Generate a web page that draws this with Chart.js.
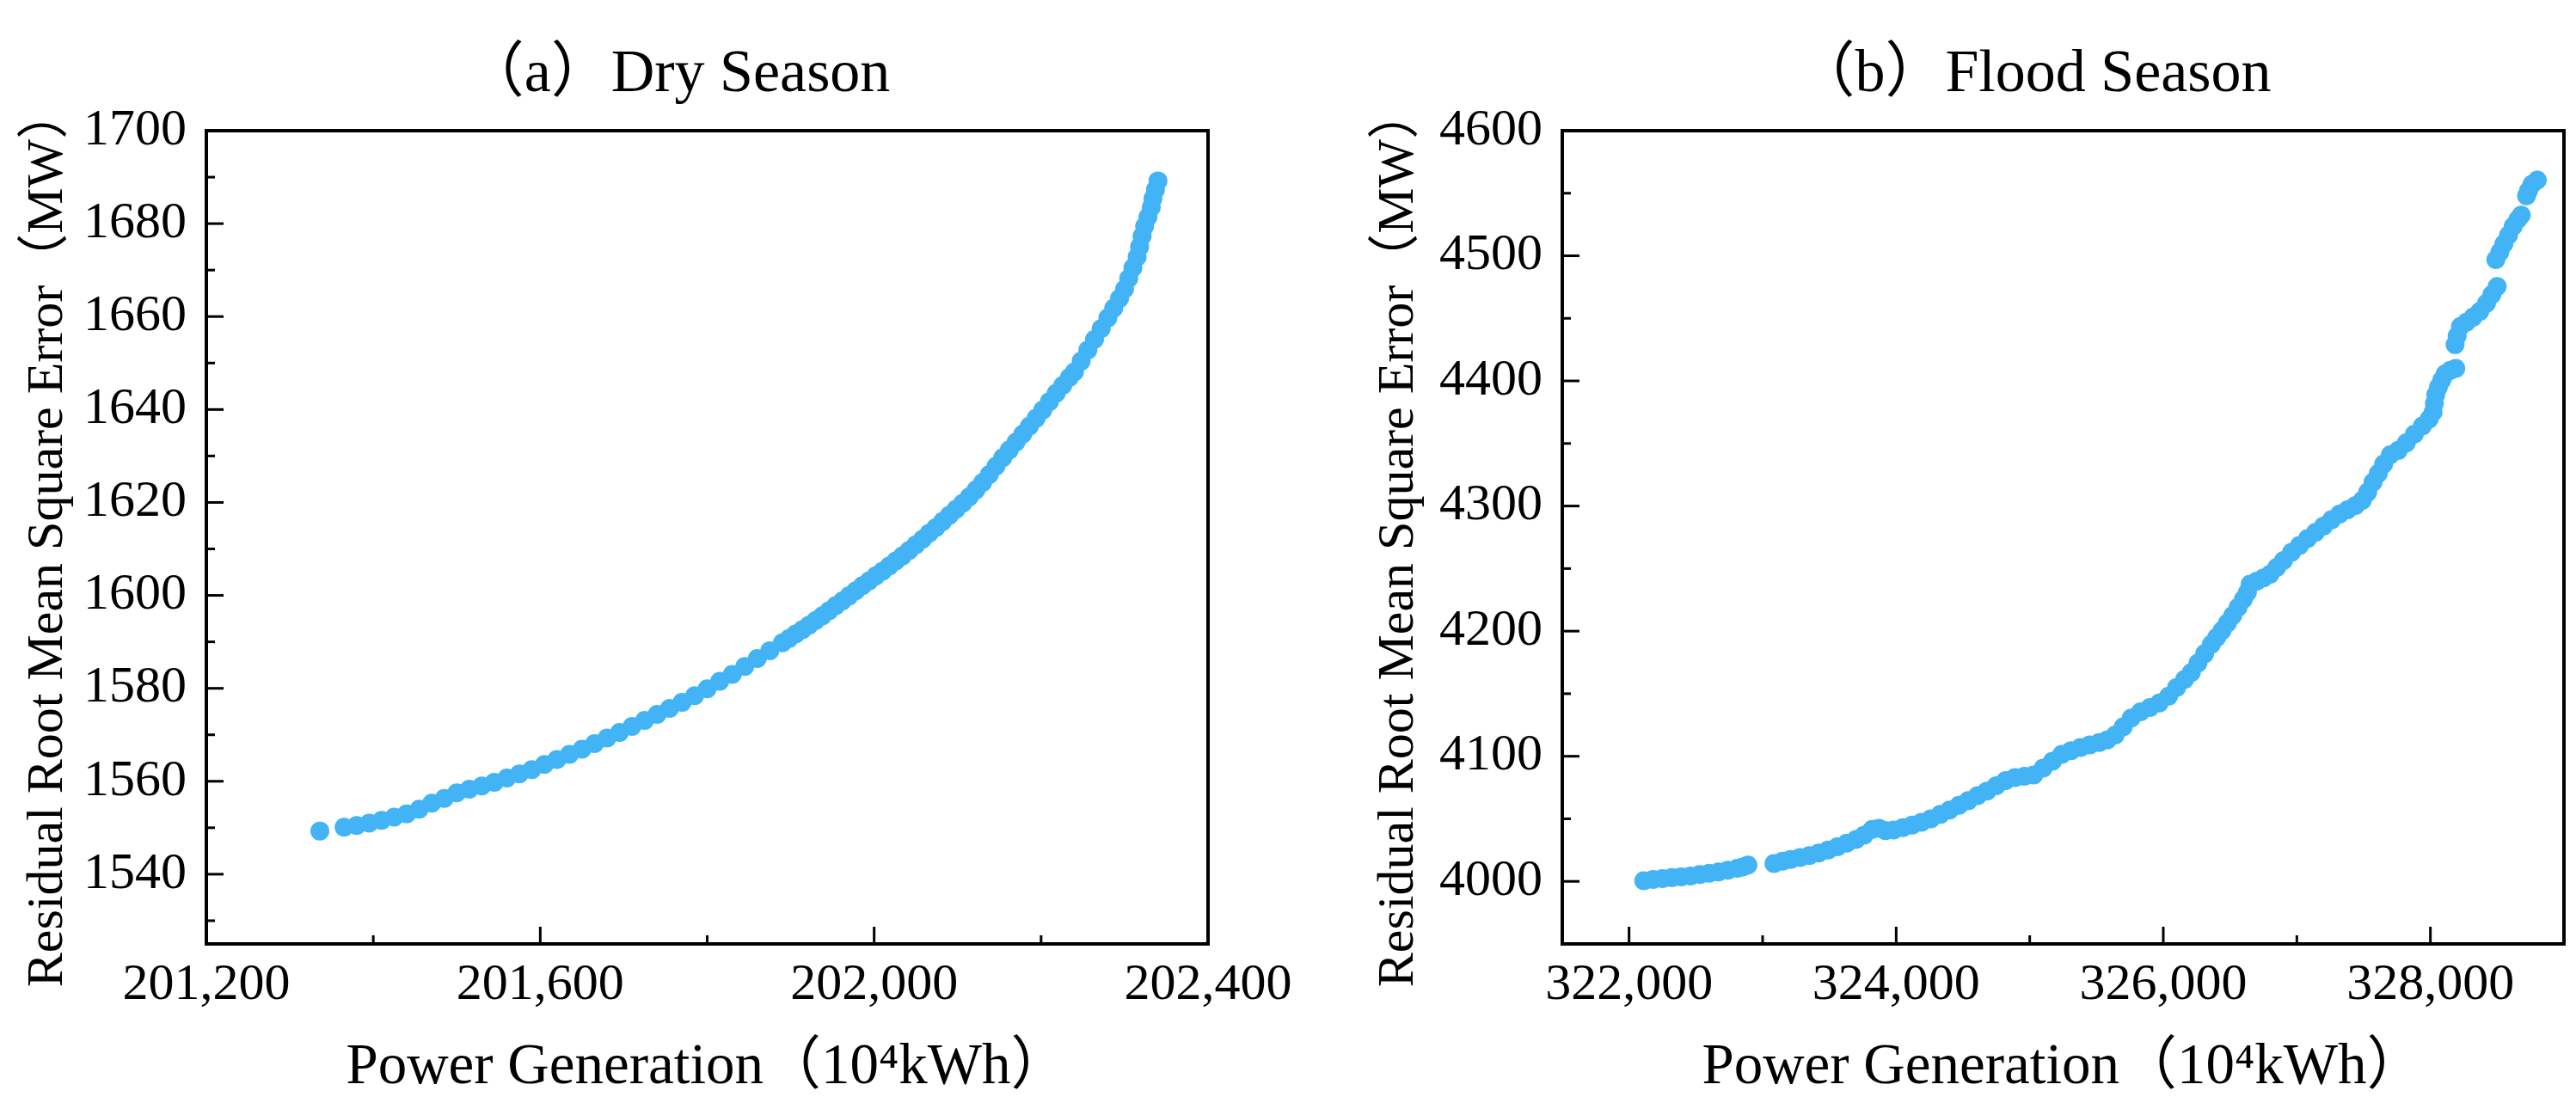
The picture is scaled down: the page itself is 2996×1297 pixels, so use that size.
<!DOCTYPE html>
<html>
<head>
<meta charset="utf-8">
<script src="https://cdn.jsdelivr.net/npm/chart.js@4.4.1/dist/chart.umd.min.js"></script>
<style>
  html, body { margin: 0; padding: 0; background: #fff; }
  #wrap { position: relative; width: 2996px; height: 1297px; overflow: hidden; }
  .box { position: absolute; top: 0; height: 1297px; }
  #boxA { left: 0; width: 1600px; }
  #boxB { left: 1498px; width: 1498px; }
</style>
</head>
<body>
<div id="wrap">
  <div class="box" id="boxA"><canvas id="dryChart"></canvas></div>
  <div class="box" id="boxB"><canvas id="floodChart"></canvas></div>
</div>
<script>
// (a) Dry season: power generation (10^4 kWh) vs residual RMSE (MW)
var dryPower = [201336, 201365, 201380, 201395, 201410, 201425, 201440, 201455, 201470, 201485,
  201500, 201515, 201530, 201545, 201560, 201575, 201590, 201605, 201620, 201635,
  201650, 201665, 201680, 201695, 201710, 201725, 201740, 201755, 201770, 201785,
  201800, 201815, 201830, 201845, 201860, 201875, 201890,
  201898, 201906, 201914, 201922, 201930, 201938, 201946, 201954, 201962, 201970,
  201978, 201986, 201994, 202002, 202010, 202018, 202026, 202034, 202042, 202050,
  202058, 202066, 202074, 202082, 202090, 202098, 202106, 202114, 202122, 202130,
  202138, 202146, 202154, 202162, 202170, 202178, 202186, 202194, 202202, 202210,
  202218, 202226, 202234, 202240,
  202248, 202256, 202264, 202272, 202280, 202287, 202294, 202300, 202305, 202310,
  202315, 202318, 202321, 202324, 202328, 202332, 202334, 202337, 202340];
var dryRmse = [1549.3, 1550.1, 1550.5, 1551.0, 1551.6, 1552.3, 1553.0, 1554.0, 1555.3, 1556.3,
  1557.5, 1558.3, 1559.0, 1559.8, 1560.7, 1561.6, 1562.5, 1563.6, 1564.7, 1565.8,
  1566.9, 1568.1, 1569.3, 1570.5, 1571.8, 1573.1, 1574.4, 1575.7, 1577.0, 1578.4,
  1579.9, 1581.5, 1583.0, 1584.7, 1586.4, 1588.1, 1589.8,
  1590.7, 1591.7, 1592.6, 1593.6, 1594.6, 1595.6, 1596.7, 1597.8, 1598.8, 1599.9,
  1601.0, 1602.1, 1603.1, 1604.2, 1605.2, 1606.3, 1607.4, 1608.5, 1609.7, 1610.9,
  1612.1, 1613.4, 1614.6, 1615.9, 1617.2, 1618.5, 1619.8, 1621.2, 1622.7, 1624.3,
  1626.0, 1627.8, 1629.6, 1631.3, 1633.0, 1634.7, 1636.4, 1638.1, 1639.9, 1641.7,
  1643.5, 1645.2, 1646.9, 1648.1,
  1650.4, 1652.8, 1655.1, 1657.4, 1659.7, 1661.8, 1663.9, 1665.9, 1668.2, 1670.5,
  1672.8, 1675.0, 1677.3, 1679.4, 1681.4, 1683.5, 1685.4, 1687.3, 1689.2];

// (b) Flood season
var floodPower = [322110, 322180, 322250, 322320, 322390, 322460, 322530, 322600, 322670, 322740,
  322810, 322850, 322890, 323085, 323150, 323210, 323280, 323350, 323420, 323490,
  323560, 323630, 323700, 323760, 323820, 323870, 323920, 323980, 324050, 324120,
  324190, 324260, 324330, 324400, 324470, 324540, 324610, 324680, 324750, 324820,
  324890, 324960, 325030, 325100, 325170, 325240, 325310, 325380, 325450, 325520,
  325580, 325640, 325700, 325760, 325830, 325900, 325970, 326040, 326100, 326160,
  326210, 326260, 326310, 326360, 326400, 326440, 326480, 326520, 326560, 326600,
  326630, 326650, 326700, 326750, 326800, 326850, 326900, 326960, 327020, 327080,
  327140, 327200, 327260, 327320, 327380, 327440, 327490, 327530, 327570, 327610,
  327650, 327700, 327760, 327820, 327880, 327940, 327990, 328020, 328030, 328040,
  328060, 328085, 328110, 328150, 328190, 328185, 328200, 328225, 328270, 328320,
  328370, 328420, 328460, 328500, 328490, 328520, 328550, 328585, 328620, 328655,
  328680, 328720, 328735, 328760, 328800];
var floodRmse = [4000.5, 4001.5, 4002.3, 4003.0, 4003.6, 4004.3, 4005.5, 4006.6, 4007.6, 4008.9,
  4010.4, 4011.5, 4013.0, 4014.2, 4016.2, 4017.5, 4019.0, 4020.6, 4022.6, 4025.0,
  4027.7, 4030.5, 4033.5, 4037.0, 4041.5, 4042.5, 4040.5, 4041.0, 4043.0, 4045.0,
  4047.3, 4050.0, 4053.5, 4057.0, 4060.8, 4064.5, 4068.5, 4072.2, 4076.5, 4080.5,
  4083.0, 4084.0, 4085.0, 4090.5, 4096.0, 4101.5, 4104.5, 4107.0, 4109.0, 4111.0,
  4113.0, 4117.0, 4123.5, 4130.5, 4135.5, 4139.0, 4142.5, 4148.0, 4155.0, 4161.5,
  4167.0, 4174.5, 4182.0, 4189.5, 4195.0, 4200.5, 4206.5, 4212.5, 4219.0, 4225.5,
  4231.0, 4237.5, 4240.0, 4242.5, 4245.5, 4251.0, 4256.5, 4263.0, 4268.5, 4274.0,
  4279.0, 4284.0, 4289.0, 4293.5, 4297.0, 4300.5, 4304.5, 4311.0, 4319.0, 4326.0,
  4333.5, 4341.0, 4344.5, 4350.5, 4357.5, 4364.0, 4369.5, 4375.0, 4382.0, 4389.0,
  4395.0, 4400.5, 4405.5, 4408.5, 4410.0, 4429.0, 4436.0, 4443.5, 4447.0, 4451.0,
  4455.5, 4462.0, 4469.0, 4475.5, 4497.0, 4503.0, 4509.5, 4516.5, 4523.5, 4529.0,
  4532.5, 4548.0, 4552.0, 4557.0, 4560.5];

// tick marks and which of them carry a label
var dryXTicks = [201200, 201400, 201600, 201800, 202000, 202200, 202400];
var dryXLabeled = [201200, 201600, 202000, 202400];
var dryYTicks = [1530, 1540, 1550, 1560, 1570, 1580, 1590, 1600, 1610, 1620, 1630, 1640, 1650, 1660, 1670, 1680, 1690, 1700];
var dryYLabeled = [1540, 1560, 1580, 1600, 1620, 1640, 1660, 1680, 1700];
var floodXTicks = [322000, 323000, 324000, 325000, 326000, 327000, 328000];
var floodXLabeled = [322000, 324000, 326000, 328000];
var floodYTicks = [4000, 4050, 4100, 4150, 4200, 4250, 4300, 4350, 4400, 4450, 4500, 4550, 4600];
var floodYLabeled = [4000, 4100, 4200, 4300, 4400, 4500, 4600];

var serif = "'Liberation Serif', 'Times New Roman', 'Noto Sans CJK SC', serif";
var dotColor = '#42B4F5';

function withComma(v) {
    return String(v).replace(/\B(?=(\d{3})+(?!\d))/g, ',');
}

function toPoints(xs, ys) {
    var pts = [];
    for (var i = 0; i < xs.length; ++i) {
        pts.push({ x: xs[i], y: ys[i] });
    }
    return pts;
}

// frame around the plot, inward ticks and the panel title
var frameTicks = {
    id: 'frameTicks',
    afterDraw: function (chart, args, opts) {
        var ctx = chart.ctx;
        var a = chart.chartArea;
        ctx.save();
        ctx.strokeStyle = '#000';
        ctx.lineWidth = 3;
        ['x', 'y'].forEach(function (id) {
            var s = chart.scales[id];
            s.ticks.forEach(function (t) {
                if (t.value <= s.min || t.value >= s.max) return;
                var p = s.getPixelForValue(t.value);
                var len = t.label !== '' ? 20 : 10;
                ctx.beginPath();
                if (id === 'x') {
                    ctx.moveTo(p, a.bottom);
                    ctx.lineTo(p, a.bottom - len);
                } else {
                    ctx.moveTo(a.left, p);
                    ctx.lineTo(a.left + len, p);
                }
                ctx.stroke();
            });
        });
        ctx.lineWidth = 4;
        ctx.strokeRect(a.left, a.top, a.right - a.left, a.bottom - a.top);

        ctx.fillStyle = '#000';
        ctx.font = '70px ' + serif;
        ctx.textAlign = 'center';
        ctx.textBaseline = 'middle';
        ctx.fillText(opts.text, (a.left + a.right) / 2 - 35, 88);
        ctx.restore();
    }
};

function makeChart(canvasId, o) {
    return new Chart(canvasId, {
        type: 'scatter',
        data: {
            datasets: [{
                data: toPoints(o.xs, o.ys),
                backgroundColor: dotColor,
                borderWidth: 0,
                pointRadius: 11
            }]
        },
        options: {
            responsive: true,
            maintainAspectRatio: false,
            devicePixelRatio: 1,
            animation: false,
            events: [],
            layout: { padding: { left: 0, right: o.padRight, top: 152, bottom: 0 } },
            plugins: {
                legend: { display: false },
                tooltip: { enabled: false },
                title: { display: false },
                frameTicks: { text: o.title }
            },
            scales: {
                x: {
                    type: 'linear',
                    min: o.xMin,
                    max: o.xMax,
                    grid: { display: false, drawTicks: false },
                    border: { display: false },
                    afterBuildTicks: function (s) {
                        s.ticks = o.xTicks.map(function (v) { return { value: v }; });
                    },
                    afterFit: function (s) {
                        s.height = 199;
                        s.paddingLeft = 0;
                        s.paddingRight = 0;
                    },
                    ticks: {
                        autoSkip: false,
                        maxRotation: 0,
                        padding: 12,
                        color: '#000',
                        font: { family: serif, size: 60 },
                        callback: function (v) {
                            return o.xLabeled.indexOf(v) >= 0 ? withComma(v) : '';
                        }
                    },
                    title: {
                        display: true,
                        text: 'Power Generation（10⁴kWh）',
                        color: '#000',
                        font: { family: serif, size: 67 },
                        padding: { top: 0, bottom: 14 }
                    }
                },
                y: {
                    type: 'linear',
                    min: o.yMin,
                    max: o.yMax,
                    grid: { display: false, drawTicks: false },
                    border: { display: false },
                    afterBuildTicks: function (s) {
                        s.ticks = o.yTicks.map(function (v) { return { value: v }; });
                    },
                    afterFit: function (s) {
                        s.width = o.yWidth;
                    },
                    ticks: {
                        autoSkip: false,
                        padding: 23,
                        color: '#000',
                        font: { family: serif, size: 60 },
                        callback: function (v) {
                            return o.yLabeled.indexOf(v) >= 0 ? String(v) : '';
                        }
                    },
                    title: {
                        display: true,
                        text: 'Residual Root Mean Square Error（MW）',
                        color: '#000',
                        font: { family: serif, size: 60 },
                        padding: { top: o.yTitlePad, bottom: 0 }
                    }
                }
            }
        },
        plugins: [frameTicks]
    });
}

makeChart('dryChart', {
    title: '（a）Dry Season',
    xs: dryPower, ys: dryRmse,
    xMin: 201200, xMax: 202400, yMin: 1525, yMax: 1700,
    xTicks: dryXTicks, xLabeled: dryXLabeled,
    yTicks: dryYTicks, yLabeled: dryYLabeled,
    yWidth: 240, yTitlePad: 20, padRight: 195
});

makeChart('floodChart', {
    title: '（b）Flood Season',
    xs: floodPower, ys: floodRmse,
    xMin: 321500, xMax: 329000, yMin: 3950, yMax: 4600,
    xTicks: floodXTicks, xLabeled: floodXLabeled,
    yTicks: floodYTicks, yLabeled: floodYLabeled,
    yWidth: 319, yTitlePad: 93, padRight: 14
});
</script>
</body>
</html>
